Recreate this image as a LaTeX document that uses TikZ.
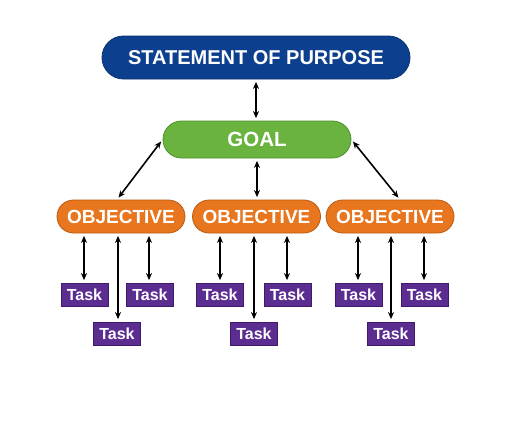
\documentclass[tikz,border=0pt]{standalone}
\usepackage{fontspec}
\setmainfont{Liberation Sans}
\usetikzlibrary{arrows.meta}
\definecolor{sopblue}{HTML}{0D3F8F}
\definecolor{sopblueb}{HTML}{08306E}
\definecolor{goalgreen}{HTML}{6AB33F}
\definecolor{goalgreenb}{HTML}{4F8F2C}
\definecolor{objorange}{HTML}{E8761E}
\definecolor{objorangeb}{HTML}{B85A12}
\definecolor{taskpurple}{HTML}{5C2D91}
\definecolor{taskpurpleb}{HTML}{3E1A6A}
\begin{document}
\begin{tikzpicture}[x=1pt,y=-1pt,
  pill/.style={draw, line width=0.8pt, text=white, inner sep=0pt},
  sop/.style={pill, fill=sopblue, draw=sopblueb, minimum width=308pt, minimum height=43pt, rounded corners=21.5pt, font=\fontsize{20}{22}\selectfont\bfseries},
  goalbox/.style={pill, fill=goalgreen, draw=goalgreenb, minimum width=188pt, minimum height=37pt, rounded corners=18.5pt, font=\fontsize{20.5}{22}\selectfont\bfseries},
  objbox/.style={pill, fill=objorange, draw=objorangeb, minimum width=128pt, minimum height=33pt, rounded corners=16.5pt, font=\fontsize{19}{21}\selectfont\bfseries},
  taskbox/.style={pill, fill=taskpurple, draw=taskpurpleb, minimum width=47pt, minimum height=23pt, font=\fontsize{16}{18}\selectfont\bfseries},
  link/.style={{Stealth[length=7pt,width=6pt]}-{Stealth[length=7pt,width=6pt]}, line width=1.6pt, black, shorten <=2.5pt, shorten >=2.5pt}
]
\useasboundingbox[fill=white] (0,0) rectangle (512,424);
\node[sop] (sop) at (256,57.5) {STATEMENT OF PURPOSE};
\node[goalbox] (goal) at (257,139.5) {GOAL};
\node[objbox] (o1) at (121,216.5) {OBJECTIVE};
\node[objbox] (o2) at (256.5,216.5) {OBJECTIVE};
\node[objbox] (o3) at (390,216.5) {OBJECTIVE};
% tasks group 1
\node[taskbox] (t1a) at (84.5,294.5) {Task};
\node[taskbox] (t1b) at (150,294.5) {Task};
\node[taskbox] (t1c) at (117,333.5) {Task};
% group 2
\node[taskbox] (t2a) at (220,294.5) {Task};
\node[taskbox] (t2b) at (287.5,294.5) {Task};
\node[taskbox] (t2c) at (254,333.5) {Task};
% group 3
\node[taskbox] (t3a) at (358.5,294.5) {Task};
\node[taskbox] (t3b) at (424.5,294.5) {Task};
\node[taskbox] (t3c) at (391,333.5) {Task};

\draw[link] (sop.south -| 256,0) -- (goal.north -| 256,0);
\draw[link] (o1.north -| 117,0) -- (goal.west);
\draw[link] (o2.north -| 257,0) -- (goal.south -| 257,0);
\draw[link] (o3.north -| 400,0) -- (goal.east);

\draw[link] (o1.south -| 84,0) -- (t1a.north -| 84,0);
\draw[link] (o1.south -| 149,0) -- (t1b.north -| 149,0);
\draw[link] (o1.south -| 118,0) -- (t1c.north -| 118,0);

\draw[link] (o2.south -| 220,0) -- (t2a.north -| 220,0);
\draw[link] (o2.south -| 287,0) -- (t2b.north -| 287,0);
\draw[link] (o2.south -| 254,0) -- (t2c.north -| 254,0);

\draw[link] (o3.south -| 358,0) -- (t3a.north -| 358,0);
\draw[link] (o3.south -| 424,0) -- (t3b.north -| 424,0);
\draw[link] (o3.south -| 391,0) -- (t3c.north -| 391,0);
\end{tikzpicture}
\end{document}
